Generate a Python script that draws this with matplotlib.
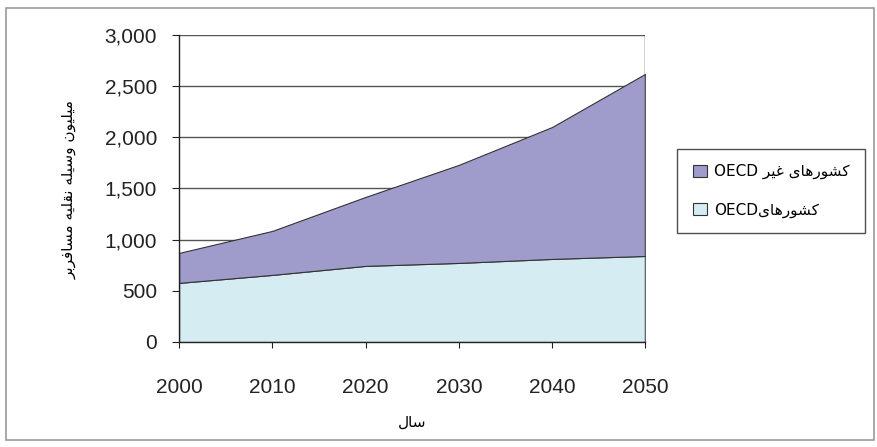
import matplotlib
matplotlib.use("Agg")
import matplotlib.pyplot as plt
from matplotlib.ticker import FuncFormatter
from matplotlib.patches import Rectangle
import numpy as np

# Passenger vehicle stock (millions), OECD vs non-OECD
years = [2000, 2010, 2020, 2030, 2040, 2050]
oecd = [577, 655, 743, 772, 811, 840]
non_oecd = [293, 430, 674, 958, 1289, 1780]

# Arabic/Persian presentation forms: (isolated, final, initial, medial)
FORMS = {
    'ا': ('\uFE8D', '\uFE8E', None, None),
    'ب': ('\uFE8F', '\uFE90', '\uFE91', '\uFE92'),
    'ر': ('\uFEAD', '\uFEAE', None, None),
    'س': ('\uFEB1', '\uFEB2', '\uFEB3', '\uFEB4'),
    'ش': ('\uFEB5', '\uFEB6', '\uFEB7', '\uFEB8'),
    'غ': ('\uFECD', '\uFECE', '\uFECF', '\uFED0'),
    'ف': ('\uFED1', '\uFED2', '\uFED3', '\uFED4'),
    'ق': ('\uFED5', '\uFED6', '\uFED7', '\uFED8'),
    'ل': ('\uFEDD', '\uFEDE', '\uFEDF', '\uFEE0'),
    'م': ('\uFEE1', '\uFEE2', '\uFEE3', '\uFEE4'),
    'ن': ('\uFEE5', '\uFEE6', '\uFEE7', '\uFEE8'),
    'ه': ('\uFEE9', '\uFEEA', '\uFEEB', '\uFEEC'),
    'و': ('\uFEED', '\uFEEE', None, None),
    'ی': ('\uFBFC', '\uFBFD', '\uFBFE', '\uFBFF'),
    'ک': ('\uFB8E', '\uFB8F', '\uFB90', '\uFB91'),
}


def shape(text):
    # join letters, then reverse into visual (left-to-right) order
    out = []
    n = len(text)
    for i, ch in enumerate(text):
        if ch not in FORMS:
            out.append(ch)
            continue
        f = FORMS[ch]
        prev = text[i - 1] if i > 0 else None
        nxt = text[i + 1] if i < n - 1 else None
        prev_joins = prev in FORMS and FORMS[prev][2] is not None
        next_ok = nxt in FORMS and f[2] is not None
        if prev_joins and next_ok:
            out.append(f[3])
        elif prev_joins:
            out.append(f[1])
        elif next_ok:
            out.append(f[2])
        else:
            out.append(f[0])
    return ''.join(out)[::-1]


ylabel = shape('میلیون وسیله نقلیه مسافربر')
xlabel = shape('سال')
label_non = 'OECD ' + shape('کشورهای غیر')
label_oecd = 'OECD' + shape('کشورهای')

plt.rcParams['font.family'] = ['Liberation Sans', 'DejaVu Sans']

fig = plt.figure(figsize=(8.78, 4.47), dpi=100)
ax = fig.add_axes([0.204, 0.235, 0.531, 0.687])

fig.patches.append(Rectangle((0.007, 0.015), 0.988, 0.967, transform=fig.transFigure,
                             fill=False, edgecolor='#9a9a9a', linewidth=1.2))

polys = ax.stackplot(years, oecd, non_oecd, colors=['#d6ecf3', '#9f9bcb'],
                     edgecolor='#333333', linewidth=0.8, zorder=2)

ax.set_xlim(2000, 2050)
ax.set_ylim(0, 3000)
ax.set_xticks(years)
ax.set_yticks(np.arange(0, 3001, 500))
ax.yaxis.set_major_formatter(FuncFormatter(lambda v, p: f'{int(v):,}'))
ax.grid(axis='y', color='#555555', linewidth=1.0, zorder=0)
ax.set_axisbelow(True)

for s in ax.spines.values():
    s.set_color('#222222')
    s.set_linewidth(1.0)
ax.spines['top'].set_visible(False)
ax.spines['right'].set_visible(False)
ax.axvline(2050, color='#222222', linewidth=1.0, zorder=3)

ax.tick_params(axis='x', labelsize=15, length=4, pad=22, colors='#222222')
ax.tick_params(axis='y', labelsize=15, length=5, pad=11, colors='#222222')

ax.set_xlabel(xlabel, family='DejaVu Sans', fontsize=11)
ax.xaxis.set_label_coords(0.5, -0.238)
ax.set_ylabel(ylabel, family='DejaVu Sans', fontsize=11)
ax.yaxis.set_label_coords(-0.22, 0.495)

leg = ax.legend(handles=[polys[1], polys[0]], labels=[label_non, label_oecd],
                loc='center left', bbox_to_anchor=(1.069, 0.492), borderaxespad=0,
                frameon=True, fancybox=False, edgecolor='#222222',
                handlelength=0.9, handleheight=0.9, handletextpad=0.5,
                labelspacing=1.5, borderpad=1.0,
                prop={'family': 'DejaVu Sans', 'size': 11})
leg.get_frame().set_linewidth(1.0)

fig.savefig('out.png', dpi=100, facecolor='white')
